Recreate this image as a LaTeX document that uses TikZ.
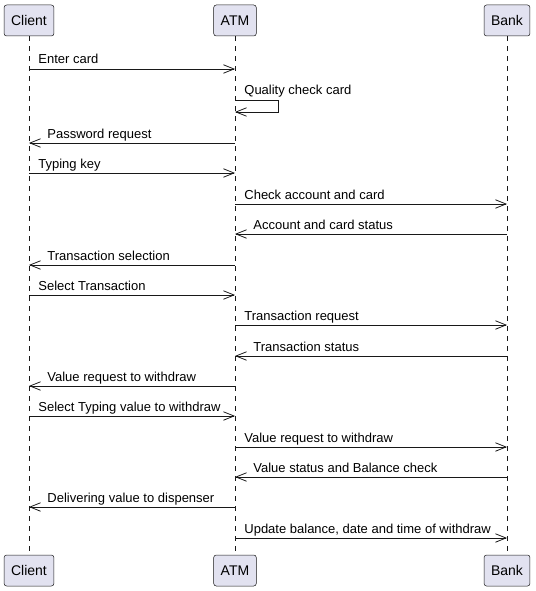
\documentclass[tikz,border=0pt]{standalone}
\usepackage{fontspec}
\setmainfont{Liberation Sans}
\usetikzlibrary{arrows.meta,positioning}
\definecolor{partfill}{HTML}{E2E2F0}
\definecolor{umlline}{HTML}{181818}

\begin{document}
\begin{tikzpicture}[
  x=1pt, y=-1pt,
  actor/.style={draw=umlline, fill=partfill, rounded corners=2.5pt, line width=0.5pt,
                font=\fontsize{14}{16}\selectfont, inner xsep=7pt,
                minimum height=31pt},
  life/.style={draw=umlline, line width=0.5pt, dash pattern=on 5pt off 5pt},
  msg/.style={draw=umlline, line width=0.8pt,
              -{Straight Barb[length=10.5pt, width=8.5pt, line width=0.8pt]}},
  lblR/.style={anchor=base west, xshift=9pt, yshift=5pt, inner sep=0pt,
               font=\fontsize{13}{15}\selectfont},
  lblL/.style={anchor=base west, xshift=18pt, yshift=5pt, inner sep=0pt,
               font=\fontsize{13}{15}\selectfont}
]
\useasboundingbox (0,0) rectangle (535,591);

% Participants
\node[actor] (clientT) at (29,20.5) {Client};
\node[actor] (atmT) at (235,20.5) {ATM};
\node[actor] (bankT) at (507,20.5) {Bank};
\node[actor] (clientB) at (29,570.5) {Client};
\node[actor] (atmB) at (235,570.5) {ATM};
\node[actor] (bankB) at (507,570.5) {Bank};

% Lifelines
\draw[life] (clientT.south) -- (clientB.north);
\draw[life] (atmT.south) -- (atmB.north);
\draw[life] (bankT.south) -- (bankB.north);

% Messages
\draw[msg] (clientT |- 0,69) node[lblR] {Enter card} -- (atmT |- 0,69);
\draw[msg] (atmT |- 0,100) node[lblR] {Quality check card} -- ++(43,0) -- ++(0,12)
           -- (atmT |- 0,112);
\draw[msg] (atmT |- 0,143) -- (clientT |- 0,143) node[lblL] {Password request};
\draw[msg] (clientT |- 0,173) node[lblR] {Typing key} -- (atmT |- 0,173);
\draw[msg] (atmT |- 0,204) node[lblR] {Check account and card} -- (bankT |- 0,204);
\draw[msg] (bankT |- 0,234) -- (atmT |- 0,234) node[lblL] {Account and card status};
\draw[msg] (atmT |- 0,265) -- (clientT |- 0,265) node[lblL] {Transaction selection};
\draw[msg] (clientT |- 0,295) node[lblR] {Select Transaction} -- (atmT |- 0,295);
\draw[msg] (atmT |- 0,325) node[lblR] {Transaction request} -- (bankT |- 0,325);
\draw[msg] (bankT |- 0,356) -- (atmT |- 0,356) node[lblL] {Transaction status};
\draw[msg] (atmT |- 0,386) -- (clientT |- 0,386) node[lblL] {Value request to withdraw};
\draw[msg] (clientT |- 0,416) node[lblR] {Select Typing value to withdraw} -- (atmT |- 0,416);
\draw[msg] (atmT |- 0,447) node[lblR] {Value request to withdraw} -- (bankT |- 0,447);
\draw[msg] (bankT |- 0,477) -- (atmT |- 0,477) node[lblL] {Value status and Balance check};
\draw[msg] (atmT |- 0,507) -- (clientT |- 0,507) node[lblL] {Delivering value to dispenser};
\draw[msg] (atmT |- 0,538) node[lblR] {Update balance, date and time of withdraw} -- (bankT |- 0,538);
\end{tikzpicture}
\end{document}
